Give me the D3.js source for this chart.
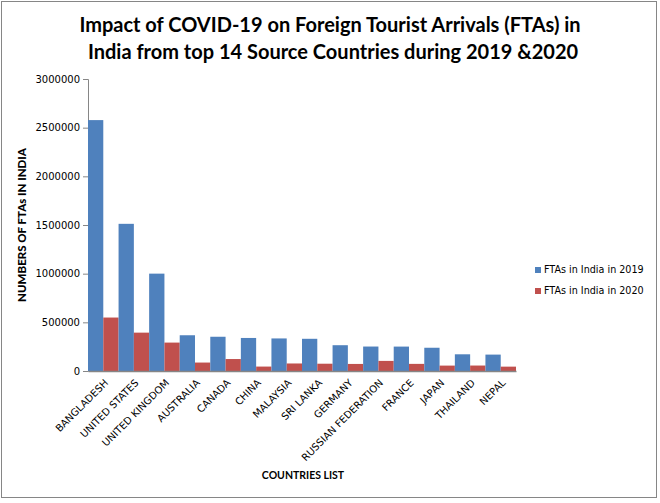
<!DOCTYPE html>
<html>
<head>
<meta charset="utf-8">
<script src="https://cdn.jsdelivr.net/npm/d3@7"></script>
<style>
  body { margin: 0; background: #fff; }
</style>
</head>
<body>
<div id="chart-area"></div>
<script>
const countries = ["BANGLADESH", "UNITED STATES", "UNITED KINGDOM", "AUSTRALIA", "CANADA", "CHINA",
  "MALAYSIA", "SRI LANKA", "GERMANY", "RUSSIAN FEDERATION", "FRANCE", "JAPAN", "THAILAND", "NEPAL"]
const fta2019 = [2577727, 1512032, 1000292, 367241, 351859, 339442, 334579, 330861, 264973, 251319, 250783, 238903, 171591, 168527]
const fta2020 = [549273, 394092, 291874, 86758, 122868, 45523, 77287, 74869, 72558, 103730, 73213, 55513, 56103, 44768]
const seriesNames = ["FTAs in India in 2019", "FTAs in India in 2020"]
const yTicks = [0, 500000, 1000000, 1500000, 2000000, 2500000, 3000000]

const W = 660, H = 503
const MARGIN = { LEFT: 88, RIGHT: 144, TOP: 79, BOTTOM: 132 }
const WIDTH = W - MARGIN.LEFT - MARGIN.RIGHT
const HEIGHT = H - MARGIN.TOP - MARGIN.BOTTOM
const colors = ["#4F81BD", "#C0504D"]

const svg = d3.select("#chart-area").append("svg")
  .attr("width", W)
  .attr("height", H)

// outer frame
svg.append("rect")
  .attr("x", 1.5).attr("y", 1.5)
  .attr("width", W - 5).attr("height", H - 7)
  .attr("fill", "#fff")
  .attr("stroke", "#868686")

// title
const title = svg.append("text")
  .attr("text-anchor", "middle")
  .attr("font-family", "Lato, sans-serif")
  .attr("font-weight", "bold")
  .attr("font-size", "20px")
  .attr("fill", "#000")
title.append("tspan").attr("x", 330).attr("y", 32).text("Impact of COVID-19 on Foreign Tourist Arrivals (FTAs) in")
title.append("tspan").attr("x", 333).attr("y", 59).text("India from top 14 Source Countries during 2019 &2020")

const g = svg.append("g")
  .attr("transform", `translate(${MARGIN.LEFT}, ${MARGIN.TOP})`)

const x = d3.scaleBand()
  .domain(countries)
  .range([0, WIDTH])
  .padding(0)

const xs = d3.scaleBand()
  .domain([0, 1])
  .range([0, x.bandwidth()])
  .padding(0)

const y = d3.scaleLinear()
  .domain([0, 3000000])
  .range([HEIGHT, 0])

// y axis
const yAxis = g.append("g")
  .call(d3.axisLeft(y).tickValues(yTicks).tickSize(5).tickFormat(d => d))
yAxis.selectAll("line, path").attr("stroke", "#868686")
yAxis.select("path").attr("d", `M-5,${HEIGHT}.5H0.5V0.5H-5`)
yAxis.selectAll("text")
  .attr("font-family", "'DejaVu Sans', sans-serif")
  .attr("font-size", "10px")
  .attr("fill", "#000")
  .attr("x", -8)

// bars
const groups = g.selectAll(".grp")
  .data(countries)
  .enter().append("g")
  .attr("class", "grp")
  .attr("transform", d => `translate(${x(d)},0)`)

groups.selectAll("rect")
  .data((d, i) => [fta2019[i], fta2020[i]])
  .enter().append("rect")
  .attr("x", (d, j) => xs(j))
  .attr("y", d => y(d))
  .attr("width", xs.bandwidth())
  .attr("height", d => HEIGHT - y(d))
  .attr("fill", (d, j) => colors[j])

// x axis
const xAxis = g.append("g")
  .attr("transform", `translate(0, ${HEIGHT})`)
  .call(d3.axisBottom(x).tickSize(0).tickSizeOuter(0))
xAxis.select("path").attr("stroke", "#868686").attr("stroke-width", 1.5)
xAxis.selectAll("text")
  .attr("font-family", "'DejaVu Sans', sans-serif")
  .attr("font-size", "10px")
  .attr("fill", "#000")
  .attr("text-anchor", "end")
  .attr("x", 0)
  .attr("y", 0)
  .attr("dy", "0.35em")
  .attr("transform", "translate(3, 10) rotate(-45)")

// axis titles
g.append("text")
  .attr("x", -(HEIGHT / 2) + 0)
  .attr("y", -62)
  .attr("transform", "rotate(-90)")
  .attr("text-anchor", "middle")
  .attr("font-family", "Lato, sans-serif")
  .attr("font-weight", "900")
  .attr("font-size", "11.5px")
  .text("NUMBERS OF FTAs IN INDIA")

g.append("text")
  .attr("x", WIDTH / 2 + 1)
  .attr("y", HEIGHT + 108)
  .attr("text-anchor", "middle")
  .attr("font-family", "Lato, sans-serif")
  .attr("font-weight", "bold")
  .attr("font-size", "10.5px")
  .text("COUNTRIES LIST")

// legend
const legend = svg.append("g")
  .attr("transform", "translate(535, 267)")
seriesNames.forEach((name, i) => {
  const row = legend.append("g").attr("transform", `translate(0, ${i * 21})`)
  row.append("rect").attr("width", 6).attr("height", 6).attr("fill", colors[i])
  row.append("text")
    .attr("x", 9).attr("y", 6)
    .attr("font-family", "'DejaVu Sans', sans-serif")
    .attr("font-size", "9.6px")
    .text(name)
})
</script>
</body>
</html>
